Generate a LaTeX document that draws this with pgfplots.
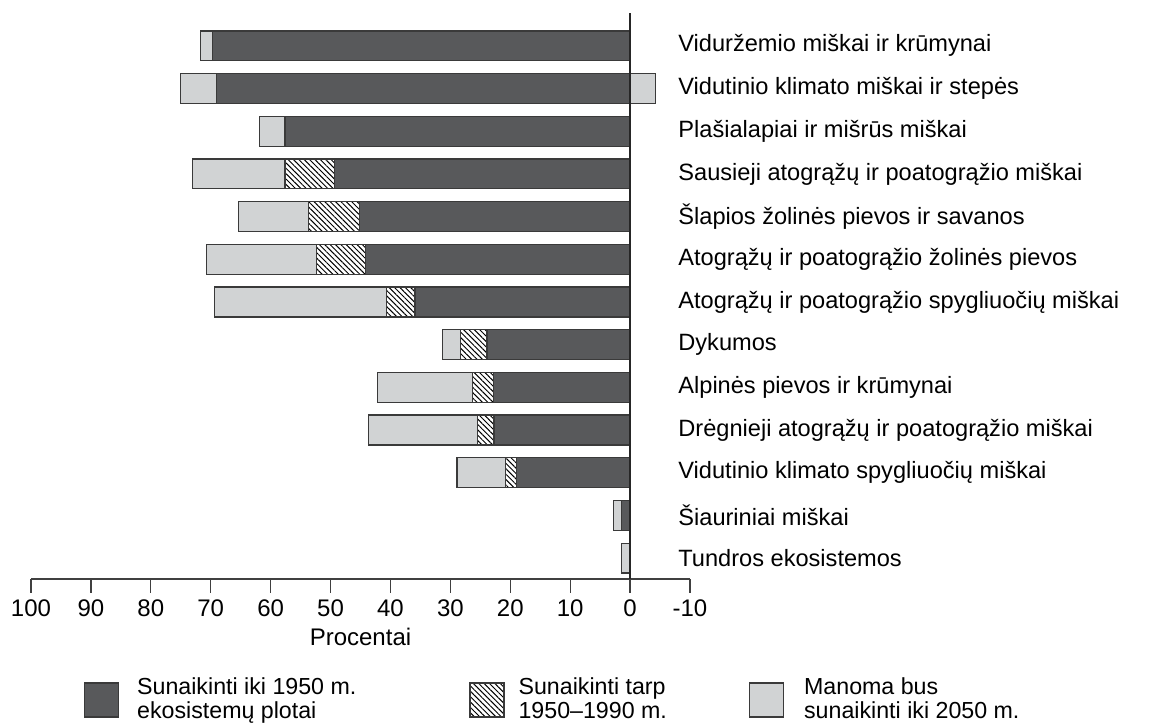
\documentclass[border=0pt]{standalone}
\usepackage{fontspec}
\setmainfont{Liberation Sans}
\usepackage{pgfplots}
\pgfplotsset{compat=1.18}
\usetikzlibrary{patterns.meta}
\definecolor{darkbar}{HTML}{58595B}
\definecolor{lightbar}{HTML}{D1D3D4}
\definecolor{edge}{HTML}{3A3A3A}
\tikzset{hatchfill/.style={fill=white, postaction={pattern={Lines[angle=-45,distance=1.9pt,line width=0.5pt]}, pattern color=black}}}
\begin{document}
\begin{tikzpicture}
\begin{axis}[
  at={(15.5pt,73.5pt)}, anchor=south west,
  scale only axis, width=329.5pt, height=283pt,
  xbar stacked, bar width=0.7,
  x dir=reverse,
  xmin=-10, xmax=100, ymin=-0.49, ymax=12.77,
  axis x line=bottom, axis y line=right,
  x axis line style={-, draw=black!75, line width=0.6pt},
  y axis line style={-, draw=none},
  xtick={-10,0,...,100},
  xticklabels={-10,0,10,20,30,40,50,60,70,80,90,100},
  tick align=outside, major tick length=7pt,
  xtick style={draw=black!75, line width=0.6pt},
  ytick={0,...,12}, ytick style={draw=none},
  yticklabels={Tundros ekosistemos, Šiauriniai miškai, Vidutinio klimato spygliuočių miškai, Drėgnieji atogrąžų ir poatogrąžio miškai, Alpinės pievos ir krūmynai, Dykumos, Atogrąžų ir poatogrąžio spygliuočių miškai, Atogrąžų ir poatogrąžio žolinės pievos, Šlapios žolinės pievos ir savanos, Sausieji atogrąžų ir poatogrąžio miškai, Plašialapiai ir mišrūs miškai, Vidutinio klimato miškai ir stepės, Viduržemio miškai ir krūmynai},
  yticklabel style={anchor=west, inner sep=0pt, xshift=-13pt, font=\fontsize{11.8}{14}\selectfont},
  xticklabel style={font=\fontsize{12}{14}\selectfont},
  xlabel={Procentai},
  xlabel style={at={(axis description cs:0.5,0)}, anchor=center, yshift=-28.9pt, font=\fontsize{12}{14}\selectfont},
  legend image code/.code={\draw[#1] (0pt,-8.5pt) rectangle (17pt,8.5pt);},
  legend style={at={(axis description cs:0.0804,-0.2138)}, anchor=west, draw=none, fill=none, inner sep=0pt, outer sep=0pt, legend columns=3, font=\fontsize{11.6}{12}\selectfont, cells={align=left, anchor=west},
    /tikz/column 1/.style={column sep=7pt}, /tikz/column 2/.style={column sep=54.5pt},
    /tikz/column 3/.style={column sep=5pt}, /tikz/column 4/.style={column sep=39pt},
    /tikz/column 5/.style={column sep=8pt}},
]
\addplot[fill=darkbar, draw=edge, line width=0.6pt] coordinates {
 (69.7,12) (69.1,11) (57.6,10) (49.4,9) (45.1,8) (44.1,7) (35.9,6) (23.9,5) (22.8,4) (22.7,3) (19.0,2) (1.45,1) (0,0)};
\addlegendentry{Sunaikinti iki 1950 m.\\ekosistemų plotai}
\addplot[hatchfill, draw=edge, line width=0.6pt] coordinates {
 (0,12) (0,11) (0,10) (8.2,9) (8.6,8) (8.3,7) (4.8,6) (4.4,5) (3.5,4) (2.8,3) (1.8,2) (0,1) (0,0)};
\addlegendentry{Sunaikinti tarp\\1950--1990 m.}
\addplot[fill=lightbar, draw=edge, line width=0.6pt] coordinates {
 (2.0,12) (6.0,11) (4.3,10) (15.5,9) (11.6,8) (18.3,7) (28.7,6) (3.0,5) (15.9,4) (18.1,3) (8.1,2) (1.3,1) (1.5,0)};
\addlegendentry{Manoma bus\\sunaikinti iki 2050 m.}
\end{axis}
\begin{axis}[
  at={(15.5pt,73.5pt)}, anchor=south west,
  scale only axis, width=329.5pt, height=283pt,
  x dir=reverse,
  xmin=-10, xmax=100, ymin=-0.49, ymax=12.77,
  hide axis,
]
\addplot[xbar, bar width=0.7, fill=lightbar, draw=edge, line width=0.6pt] coordinates {(-4.3,11)};
\addplot[black!85, line width=0.7pt, mark=none] coordinates {(0,-0.49) (0,12.77)};
\end{axis}
\pgfresetboundingbox
\useasboundingbox (0,0) rectangle (575pt,363pt);
\end{tikzpicture}
\end{document}
